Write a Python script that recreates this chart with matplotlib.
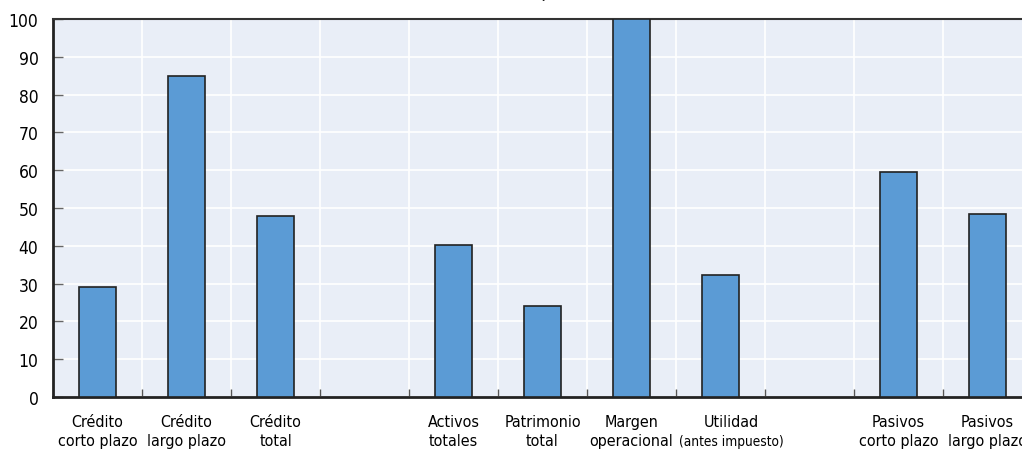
import numpy as np
import matplotlib.pyplot as plt

plt.rcParams['font.family'] = ['DejaVu Sans']
plt.rcParams['font.stretch'] = 'condensed'

categorias = [('Crédito', 'corto plazo'), ('Crédito', 'largo plazo'), ('Crédito', 'total'), ('', ''),
              ('Activos', 'totales'), ('Patrimonio', 'total'), ('Margen', 'operacional'),
              ('Utilidad', '(antes impuesto)'), ('', ''), ('Pasivos', 'corto plazo'), ('Pasivos', 'largo plazo')]
valores = [29, 85, 48, np.nan, 40.2, 24.1, 100, 32.3, np.nan, 59.4, 48.4]
y_ticks = [0, 10, 20, 30, 40, 50, 60, 70, 80, 90, 100]

fig = plt.figure(figsize=(10.22, 4.52), dpi=100)
ax = fig.add_axes([53 / 1022, 54 / 452, 979 / 1022, 378 / 452])
ax.set_facecolor('#e9eef7')

x = np.arange(len(categorias))
ax.bar(x, valores, width=0.41, color='#5b9bd5', edgecolor='#222222', linewidth=1.2, zorder=3)

ax.set_xlim(-0.5, len(categorias) - 0.5)
ax.set_ylim(0, 100)
ax.set_yticks(y_ticks)
ax.set_yticklabels([str(v) for v in y_ticks], fontsize=12.5)
ax.set_xticks([])
ax.set_xticks(np.arange(len(categorias)) + 0.5, minor=True)
ax.tick_params(axis='x', which='minor', direction='in', length=6, color='#555555', width=1)
ax.tick_params(axis='y', direction='in', length=7, color='#666666', width=1, pad=10.5)

# etiquetas en dos lineas
for i, (l1, l2) in enumerate(categorias):
    dx = 8 if l2.startswith('(') else 0
    ax.annotate(l1, (i, 0), xycoords=('data', 'axes fraction'), xytext=(dx, -17.5),
                textcoords='offset points', ha='center', va='center', fontsize=11.5)
    fs2 = 9.8 if l2.startswith('(') else 11.5
    ax.annotate(l2, (i, 0), xycoords=('data', 'axes fraction'), xytext=(dx, -31.5),
                textcoords='offset points', ha='center', va='center', fontsize=fs2)

ax.grid(axis='y', color='white', linewidth=1.2, zorder=0)
ax.grid(axis='x', which='minor', color='white', linewidth=1.2, zorder=0)

for s in ['left', 'bottom']:
    ax.spines[s].set_linewidth(2)
    ax.spines[s].set_color('#222222')
ax.spines['top'].set_linewidth(1.5)
ax.spines['top'].set_color('#333333')
ax.spines['right'].set_visible(False)

fig.text(545 / 1022, 1.0 + 3 / 452, '(Variación porcentual)', ha='center', va='baseline',
         fontsize=14, color='#222222')

fig.savefig('out.png', dpi=100)
